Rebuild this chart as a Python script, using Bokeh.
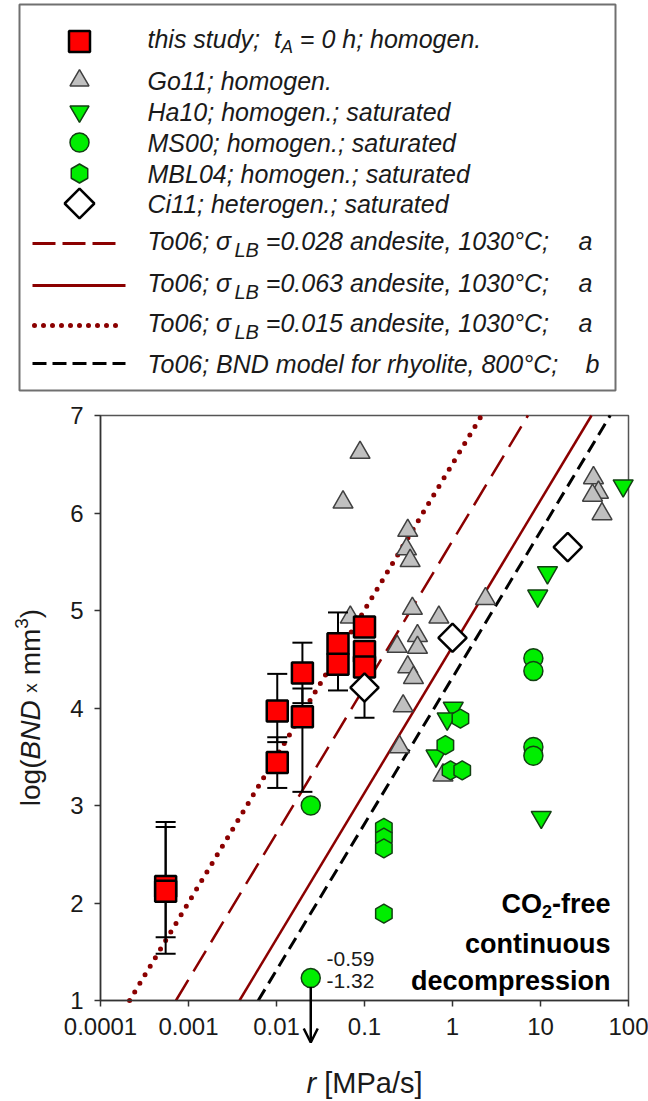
import numpy as np
from bokeh.plotting import figure
from bokeh.models import Range1d, FixedTicker, Arrow, OpenHead
from bokeh.core.properties import value
from bokeh.embed import file_html
from bokeh.resources import INLINE

FONT = "Liberation Sans"

# ---------------- data ----------------
# this study (red squares, with error bars)
this_r = [0.00055, 0.00055, 0.0102, 0.0102, 0.0197, 0.0197, 0.050, 0.050, 0.100, 0.100, 0.100]
this_v = [2.17, 2.12, 3.97, 3.44, 4.36, 3.91, 4.66, 4.45, 4.83, 4.58, 4.42]
this_lo = [1.48, 1.65, 3.65, 3.18, 4.05, 3.14, 4.50, 4.18, 4.83, 4.45, 4.42]
this_hi = [2.83, 2.78, 4.35, 3.70, 4.67, 4.20, 4.98, 4.76, 4.83, 4.68, 4.42]
# Go11 (grey triangles)
go_r = [0.057, 0.089, 0.31, 0.30, 0.33, 0.35, 0.70, 0.069, 0.235, 0.40, 0.40,
        0.31, 0.36, 0.275, 0.25, 0.78, 2.37, 40.0, 45.6, 39.0, 50.0]
go_v = [6.11, 6.62, 5.82, 5.63, 5.51, 5.02, 4.93, 4.93, 4.63, 4.74, 4.62,
        4.42, 4.31, 4.02, 3.60, 3.31, 5.12, 6.36, 6.21, 6.18, 5.99]
# Ha10 (green inverted triangles)
ha_r = [87.0, 12.0, 9.3, 1.02, 0.87, 0.65, 10.2]
ha_v = [6.28, 5.39, 5.15, 4.00, 3.89, 3.51, 2.88]
# MS00 (green circles)
ms_r = [0.0245, 0.0245, 8.3, 8.3, 8.3, 8.3]
ms_v = [3.00, 1.23, 4.51, 4.38, 3.60, 3.51]
# MBL04 (green hexagons)
mbl_r = [1.23, 0.83, 0.95, 1.29, 0.166, 0.166, 0.166, 0.166]
mbl_v = [3.89, 3.62, 3.36, 3.36, 2.77, 2.67, 2.56, 1.89]
# Ci11 (open diamonds)
ci_r = [0.100, 1.0, 20.4]
ci_v = [4.21, 4.72, 5.65]
ci_lo = [3.90, 4.72, 5.65]
ci_hi = [4.40, 4.72, 5.65]
# To06 model lines: r at log(BND)=1 and at log(BND)=7
mod_v = [1.0, 7.0]
dot_r = [2.14e-4, 2.14]       # sigma_LB = 0.015
dash_r = [7.2e-4, 7.2]        # sigma_LB = 0.028
solid_r = [3.8e-3, 38.0]      # sigma_LB = 0.063
bnd_r = [6.2e-3, 62.0]        # BND model rhyolite
# off-scale MS00 point values
off_labels = ["-0.59", "-1.32"]

x_ticks = [1e-4, 1e-3, 1e-2, 0.1, 1, 10, 100]
x_tick_labels = ["0.0001", "0.001", "0.01", "0.1", "1", "10", "100"]
y_ticks = [1, 2, 3, 4, 5, 6, 7]

# ---------------- helpers ----------------
W = {' ': 278, '(': 333, ')': 333, ',': 278, '-': 333, '.': 278, '/': 278, ';': 278,
     '=': 584, '[': 278, ']': 278, '°': 400, 'σ': 600, 'x': 500}
for d in "0123456789":
    W[d] = 556
W.update(dict(A=667, B=667, C=722, D=722, E=667, G=778, H=722, L=556, M=833, N=722,
              O=778, P=667, S=667, T=611))
W.update(dict(a=556, b=556, c=500, d=556, e=556, f=278, g=556, h=556, i=222, l=222,
              m=833, n=556, o=556, p=556, r=333, s=500, t=278, u=556, y=500))
WB = dict(W)
WB.update(dict(d=611, f=333, i=278, n=611, o=611, p=611, r=389, u=611, m=889, t=333, s=556, c=556))


def tw(s, size, bold=False):
    tab = WB if bold else W
    return sum(tab.get(ch, 556) for ch in s) * size / 1000.0


# the plot box occupies page pixels x 100..628 and y 415..1000
PX0, PX1, PY0, PY1 = 100.0, 628.0, 415.0, 1000.0
DEC = (PX1 - PX0) / (np.log10(x_ticks[-1]) - np.log10(x_ticks[0]))
UNIT = (PY1 - PY0) / (y_ticks[-1] - y_ticks[0])


def X(px):
    return 10 ** (np.log10(x_ticks[0]) + (px - PX0) / DEC)


def Y(py):
    return y_ticks[0] + (PY1 - py) / UNIT


DRED = "#8B0000"
GREEN = "#00EE00"
GEDGE = "#124012"
GREY = "#C0C0C0"
GREDGE = "#404040"
TXT = "#1a1a1a"

p = figure(width=648, height=1101, x_axis_type="log",
           x_range=Range1d(X(0), X(648)), y_range=Range1d(Y(1101), Y(0)),
           output_backend="svg", toolbar_location=None, min_border=0)
p.grid.visible = False
p.outline_line_color = None
p.background_fill_color = "white"
p.border_fill_color = "white"

p.xaxis.ticker = FixedTicker(ticks=x_ticks)
p.xaxis.major_label_overrides = {t: l for t, l in zip(x_ticks, x_tick_labels)}
p.xaxis.fixed_location = y_ticks[0]
p.xaxis.bounds = (x_ticks[0], x_ticks[-1])
p.yaxis.ticker = FixedTicker(ticks=y_ticks)
p.yaxis.fixed_location = x_ticks[0]
p.yaxis.bounds = (y_ticks[0], y_ticks[-1])
for ax in (p.xaxis, p.yaxis):
    ax.axis_line_color = "#333333"
    ax.axis_line_width = 1.5
    ax.major_tick_line_color = "#333333"
    ax.major_tick_line_width = 1.5
    ax.major_tick_out = 6
    ax.major_tick_in = 0
    ax.minor_tick_line_color = None
    ax.major_label_text_font = FONT
    ax.major_label_text_font_size = "24px"
    ax.major_label_text_color = TXT
    ax.major_label_standoff = 11

# plot box (top and right edges)
p.quad(left=[x_ticks[0]], right=[x_ticks[-1]], bottom=[y_ticks[0]], top=[y_ticks[-1]],
       fill_color=None, line_color="#555555", line_width=1.5)


def txt(px, py, s, size, style="italic", align="left", color=TXT, angle=0.0, baseline="middle"):
    p.text([X(px)], [Y(py)], text=[s], text_font=value(FONT), text_font_size=f"{size}px",
           text_font_style=style, text_baseline=baseline, text_align=align, text_color=color,
           angle=angle)


# ---------------- legend ----------------
p.quad(left=[X(19)], right=[X(615)], top=[Y(4)], bottom=[Y(390)], fill_color=None,
       line_color="#707070", line_width=2)
rows = [41, 80, 111, 142, 173, 203, 243, 285, 325, 363]
mx = X(79)
p.scatter([mx], [Y(rows[0])], marker="square", size=21, fill_color="#FF0000", line_color="black", line_width=2.5)
p.scatter([mx], [Y(rows[1])], marker="triangle", size=19, fill_color=GREY, line_color=GREDGE, line_width=1.5)
p.scatter([mx], [Y(rows[2])], marker="inverted_triangle", size=19, fill_color=GREEN, line_color=GEDGE, line_width=1.5)
p.scatter([mx], [Y(rows[3])], marker="circle", size=19, fill_color=GREEN, line_color=GEDGE, line_width=1.5)
p.scatter([mx], [Y(rows[4])], marker="hex", size=19, angle=np.pi / 2, fill_color=GREEN, line_color=GEDGE, line_width=1.5)
p.scatter([mx], [Y(rows[5])], marker="square", size=21, angle=np.pi / 4, fill_color="white", line_color="black", line_width=2.5)
p.line([X(32), X(115)], [Y(rows[6])] * 2, line_color=DRED, line_width=3, line_dash="23 7")
p.line([X(32), X(125)], [Y(rows[7])] * 2, line_color=DRED, line_width=3)
p.line([X(34), X(118)], [Y(rows[8])] * 2, line_color=DRED, line_width=5, line_dash="0 9", line_cap="round")
p.line([X(32), X(125)], [Y(rows[9])] * 2, line_color="black", line_width=3, line_dash="14 6")

LFS = 25
SFS = 18
tx0 = 147
# row 1
y = rows[0] - 3
txt(tx0, y, "this study;", LFS)
xt = tx0 + tw("this study;  ", LFS)
txt(xt, y, "t", LFS)
xa = xt + tw("t", LFS)
txt(xa, y + 8, "A", SFS)
txt(xa + tw("A", SFS) + tw(" ", LFS), y, "= 0 h; homogen.", LFS)
txt(tx0, rows[1], "Go11; homogen.", LFS)
txt(tx0, rows[2], "Ha10; homogen.; saturated", LFS)
txt(tx0, rows[3], "MS00; homogen.; saturated", LFS)
txt(tx0, rows[4], "MBL04; homogen.; saturated", LFS)
txt(tx0, rows[5], "Ci11; heterogen.; saturated", LFS)
for ri, sig in zip([6, 7, 8], ["0.028", "0.063", "0.015"]):
    y = rows[ri] - 3
    a = "To06; σ"
    txt(tx0, y, a, LFS)
    xs = tx0 + tw(a, LFS) + 1
    txt(xs, y + 9, "LB", SFS + 2)
    txt(xs + tw("LB", SFS + 2) + tw(" ", LFS), y, "=" + sig + " andesite, 1030°C;", LFS)
    txt(585, y, "a", LFS, align="center")
txt(tx0, rows[9], "To06; BND model for rhyolite, 800°C;", LFS)
txt(592, rows[9], "b", LFS, align="center")

# ---------------- data ----------------
p.line(dot_r, mod_v, line_color=DRED, line_width=5, line_dash="0 10", line_cap="round")
p.line(dash_r, mod_v, line_color=DRED, line_width=2.5, line_dash="24 10")
p.line(solid_r, mod_v, line_color=DRED, line_width=2.5)
p.line(bnd_r, mod_v, line_color="black", line_width=3, line_dash="13 7")

p.scatter(go_r, go_v, marker="triangle", size=20, fill_color=GREY, line_color=GREDGE, line_width=1.5)
p.segment(this_r, this_lo, this_r, this_hi, line_color="black", line_width=2)
p.scatter(this_r, this_lo, marker="dash", size=20, line_color="black", line_width=2)
p.scatter(this_r, this_hi, marker="dash", size=20, line_color="black", line_width=2)
p.segment(ci_r, ci_lo, ci_r, ci_hi, line_color="black", line_width=2)
p.scatter(ci_r, ci_lo, marker="dash", size=20, line_color="black", line_width=2)
p.scatter(this_r, this_v, marker="square", size=21, fill_color="#FF0000", line_color="black", line_width=2.5)
p.scatter(ha_r, ha_v, marker="inverted_triangle", size=20, fill_color=GREEN, line_color=GEDGE, line_width=1.5)
p.scatter(ms_r, ms_v, marker="circle", size=19, fill_color=GREEN, line_color=GEDGE, line_width=1.5)
p.scatter(mbl_r, mbl_v, marker="hex", size=19, angle=np.pi / 2, fill_color=GREEN, line_color=GEDGE, line_width=1.5)
p.scatter(ci_r, ci_v, marker="square", size=20, angle=np.pi / 4, fill_color="white", line_color="black", line_width=2.5)

# off-scale arrow and its values
p.add_layout(Arrow(end=OpenHead(size=14, line_width=2.5, line_color="black"),
                   x_start=ms_r[1], y_start=ms_v[1] - 0.09, x_end=ms_r[1], y_end=Y(1042),
                   line_color="black", line_width=2.5))
p.text([X(326), X(326)], [Y(958), Y(980)], text=off_labels, text_font=value(FONT),
       text_font_size="21px", text_baseline="middle", text_align="left", text_color=TXT)

# CO2-free annotation (bold, right-aligned)
BFS = 27
xr = 610
w_free = tw("-free", BFS, True)
w_2 = tw("2", 18, True)
txt(xr, 903, "-free", BFS, "bold", "right", "black")
txt(xr - w_free, 911, "2", 18, "bold", "right", "black")
txt(xr - w_free - w_2, 903, "CO", BFS, "bold", "right", "black")
txt(xr, 943, "continuous", BFS, "bold", "right", "black")
txt(xr, 980, "decompression", BFS, "bold", "right", "black")

# ---------------- axis titles (mixed italic) ----------------
TFS = 29
wx = tw("r", TFS) + tw(" [MPa/s]", TFS)
x0 = 364 - wx / 2
txt(x0, 1082, "r", TFS, "italic")
txt(x0 + tw("r ", TFS), 1082, "[MPa/s]", TFS, "normal")

YFS = 28
pieces = [("log(", YFS, "normal", 0, 0), ("BND", YFS, "italic", 0, 0),
          ("x", 19, "normal", 0, tw(" ", YFS)), ("mm", YFS, "normal", 0, tw(" ", YFS)),
          ("3", 19, "normal", -9, 0), (")", YFS, "normal", 0, 0)]
total = sum(tw(s, sz) + pre for s, sz, _, _, pre in pieces)
py = 707 + total / 2
for s, sz, st, dx, pre in pieces:
    py -= pre
    txt(30 + dx, py, s, sz, st, angle=np.pi / 2)
    py -= tw(s, sz)

open("out.html", "w").write(file_html(p, INLINE))
